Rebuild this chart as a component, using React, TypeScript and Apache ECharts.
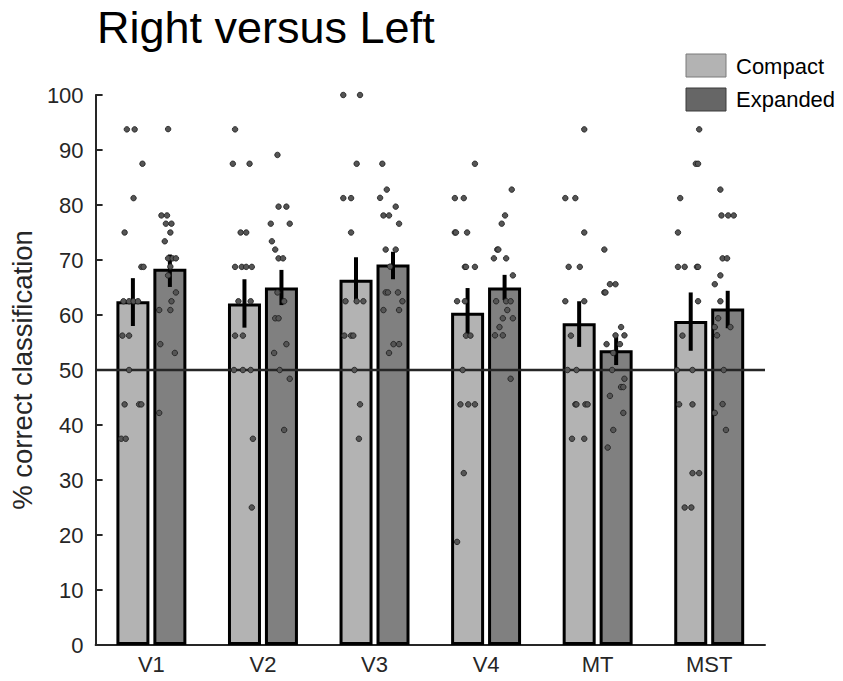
import React, { useEffect, useRef } from "react";
import * as echarts from "echarts";

const FONT = "'Liberation Sans', Arial, Helvetica, sans-serif";

const categories = ["V1", "V2", "V3", "V4", "MT", "MST"];
const compactMeans = [62.5, 62.1, 66.4, 60.4, 58.5, 58.9];
const expandedMeans = [68.4, 65.0, 69.2, 65.0, 53.6, 61.2];
const compactErrLow = [58.0, 57.7, 62.2, 56.4, 54.2, 53.5];
const compactErrHigh = [66.7, 66.5, 70.5, 64.9, 62.5, 64.1];
const expandedErrLow = [65.1, 61.8, 66.5, 62.7, 50.9, 57.6];
const expandedErrHigh = [71.0, 68.2, 71.5, 67.3, 56.1, 64.4];
const chanceLevel = 50;

// individual subjects: [x position in category units (0..6), % correct]
const compactPoints: [number, number][] = [
  // V1
  [0.28, 93.75], [0.35, 93.75], [0.42, 87.5], [0.34, 81.25], [0.26, 75], [0.41, 68.75], [0.43, 68.75],
  [0.25, 62.5], [0.30, 62.5], [0.34, 62.5], [0.38, 62.5], [0.24, 56.25], [0.30, 56.25], [0.30, 50],
  [0.26, 43.75], [0.39, 43.75], [0.41, 43.75], [0.23, 37.5], [0.27, 37.5],
  // V2
  [1.25, 93.75], [1.23, 87.5], [1.38, 87.5], [1.30, 75], [1.35, 75], [1.25, 68.75], [1.31, 68.75],
  [1.35, 68.75], [1.40, 68.75], [1.28, 62.5], [1.39, 62.5], [1.25, 56.25], [1.32, 56.25], [1.24, 50],
  [1.32, 50], [1.39, 50], [1.41, 37.5], [1.40, 25],
  // V3
  [2.22, 100], [2.37, 100], [2.34, 87.5], [2.22, 81.25], [2.29, 81.25], [2.29, 75], [2.24, 62.5],
  [2.34, 62.5], [2.40, 62.5], [2.23, 56.25], [2.29, 56.25], [2.31, 56.25], [2.32, 50], [2.37, 43.75],
  [2.36, 37.5],
  // V4
  [3.40, 87.5], [3.22, 81.25], [3.30, 81.25], [3.22, 75], [3.23, 75], [3.33, 75], [3.31, 68.75],
  [3.32, 68.75], [3.40, 68.75], [3.24, 62.5], [3.31, 62.5], [3.32, 56.25], [3.36, 56.25], [3.29, 50],
  [3.27, 43.75], [3.34, 43.75], [3.40, 43.75], [3.30, 31.25], [3.24, 18.75],
  // MT
  [4.38, 93.75], [4.21, 81.25], [4.30, 81.25], [4.38, 75], [4.24, 68.75], [4.34, 68.75], [4.21, 62.5],
  [4.38, 62.5], [4.26, 56.25], [4.23, 50], [4.31, 50], [4.30, 43.75], [4.31, 43.75], [4.39, 43.75],
  [4.41, 43.75], [4.27, 37.5], [4.38, 37.5],
  // MST
  [5.41, 93.75], [5.38, 87.5], [5.40, 87.5], [5.24, 81.25], [5.22, 75], [5.22, 68.75], [5.28, 68.75],
  [5.39, 68.75], [5.40, 68.75], [5.40, 62.5], [5.26, 56.25], [5.21, 50], [5.35, 50], [5.23, 43.75],
  [5.35, 43.75], [5.35, 31.25], [5.41, 31.25], [5.28, 25], [5.34, 25],
];

const expandedPoints: [number, number][] = [
  // V1
  [0.65, 93.8], [0.59, 78.1], [0.64, 78.1], [0.63, 76.6], [0.68, 76.6], [0.67, 75], [0.62, 73.4],
  [0.65, 70.3], [0.69, 70.3], [0.72, 70.3], [0.67, 68.8], [0.65, 67.2], [0.72, 64.1], [0.68, 62.5],
  [0.57, 60.9], [0.67, 60.9], [0.58, 54.7], [0.71, 53.1], [0.57, 42.2],
  // V2
  [1.63, 89.1], [1.64, 79.7], [1.71, 79.7], [1.57, 76.6], [1.74, 76.6], [1.58, 73.4], [1.61, 71.9],
  [1.64, 70.3], [1.68, 70.3], [1.63, 64.1], [1.69, 62.5], [1.61, 59.4], [1.64, 59.4], [1.71, 54.7],
  [1.60, 53.1], [1.65, 50], [1.74, 48.4], [1.69, 39.1],
  // V3
  [2.57, 87.5], [2.61, 82.8], [2.55, 81.3], [2.69, 79.7], [2.58, 78.1], [2.63, 78.1], [2.72, 76.6],
  [2.60, 71.9], [2.69, 71.9], [2.64, 68.8], [2.60, 64.1], [2.62, 64.1], [2.71, 64.1], [2.75, 62.5],
  [2.58, 60.9], [2.72, 60.9], [2.67, 54.7], [2.72, 54.7], [2.63, 53.1],
  // V4
  [3.73, 82.8], [3.67, 78.1], [3.64, 76.6], [3.60, 71.9], [3.61, 71.9], [3.57, 70.3], [3.68, 70.3],
  [3.74, 67.2], [3.59, 62.5], [3.68, 62.5], [3.72, 62.5], [3.69, 60.9], [3.65, 59.4], [3.74, 59.4],
  [3.62, 57.8], [3.58, 56.3], [3.65, 56.3], [3.72, 48.4],
  // MT
  [4.56, 71.9], [4.61, 65.6], [4.66, 65.6], [4.56, 64.1], [4.57, 64.1], [4.71, 57.8], [4.66, 56.3],
  [4.74, 56.3], [4.58, 54.7], [4.70, 54.7], [4.64, 53.1], [4.63, 50], [4.74, 48.4], [4.71, 46.9],
  [4.73, 46.9], [4.61, 45.3], [4.73, 42.2], [4.64, 39.1], [4.59, 35.9],
  // MST
  [5.60, 82.8], [5.61, 78.1], [5.67, 78.1], [5.72, 78.1], [5.62, 70.3], [5.66, 70.3], [5.60, 67.2],
  [5.55, 65.6], [5.60, 62.5], [5.58, 59.4], [5.55, 57.8], [5.69, 57.8], [5.57, 56.3], [5.63, 50],
  [5.62, 43.8], [5.55, 42.2], [5.65, 39.1],
];

const BAR_OFFSET = 18.5;

function errorRenderer(offset: number) {
  return (params: any, api: any) => {
    const lo = api.coord([api.value(0), api.value(1)]);
    const hi = api.coord([api.value(0), api.value(2)]);
    const x = lo[0] + offset;
    return {
      type: "line",
      shape: { x1: x, y1: lo[1], x2: x, y2: hi[1] },
      style: { stroke: "#000", lineWidth: 4 },
    };
  };
}

export default function App() {
  const ref = useRef<HTMLDivElement>(null);

  useEffect(() => {
    if (!ref.current) return;
    const chart = echarts.init(ref.current, undefined, { renderer: "svg" });

    const compactErr = categories.map((_, i) => [i, compactErrLow[i], compactErrHigh[i]]);
    const expandedErr = categories.map((_, i) => [i, expandedErrLow[i], expandedErrHigh[i]]);

    const dotStyle = { color: "#555555", borderColor: "#1a1a1a", borderWidth: 0.8, opacity: 1 };

    const option: any = {
      animation: false,
      backgroundColor: "#ffffff",
      textStyle: { fontFamily: FONT },
      title: {
        text: "Right versus Left",
        left: 92,
        top: 0,
        textStyle: { fontSize: 45, fontWeight: "normal", color: "#000", fontFamily: FONT },
      },
      grid: { left: 93, right: 78, top: 95, bottom: 36, containLabel: false },
      xAxis: [
        {
          type: "category",
          data: categories,
          axisLine: { show: true, lineStyle: { color: "#262626", width: 2 } },
          axisTick: { show: false },
          axisLabel: { color: "#262626", fontSize: 22, margin: 8, fontFamily: FONT },
          splitLine: { show: false },
        },
        { type: "value", min: 0, max: 6, show: false },
      ],
      yAxis: {
        type: "value",
        min: 0,
        max: 100,
        interval: 10,
        name: "% correct classification",
        nameLocation: "middle",
        nameGap: 58,
        nameTextStyle: { fontSize: 27.5, color: "#262626", fontFamily: FONT },
        axisLine: { show: true, lineStyle: { color: "#262626", width: 2 } },
        axisTick: { show: true, inside: true, length: 7, lineStyle: { color: "#262626", width: 2 } },
        axisLabel: { color: "#262626", fontSize: 22, margin: 12, fontFamily: FONT },
        splitLine: { show: false },
      },
      series: [
        {
          name: "Compact",
          type: "bar",
          data: compactMeans,
          barWidth: 33,
          barGap: "12%",
          itemStyle: { color: "#b3b3b3", borderColor: "#000", borderWidth: 3 },
          z: 2,
        },
        {
          name: "Expanded",
          type: "bar",
          data: expandedMeans,
          barWidth: 33,
          barGap: "12%",
          itemStyle: { color: "#808080", borderColor: "#000", borderWidth: 3 },
          z: 2,
        },
        {
          name: "chance",
          type: "line",
          xAxisIndex: 1,
          data: [
            [0, chanceLevel],
            [6, chanceLevel],
          ],
          symbol: "none",
          lineStyle: { color: "#262626", width: 2.5 },
          z: 3,
        },
        {
          name: "Compact SEM",
          type: "custom",
          xAxisIndex: 0,
          data: compactErr,
          encode: { x: 0, y: [1, 2] },
          renderItem: errorRenderer(-BAR_OFFSET),
          z: 4,
        },
        {
          name: "Expanded SEM",
          type: "custom",
          xAxisIndex: 0,
          data: expandedErr,
          encode: { x: 0, y: [1, 2] },
          renderItem: errorRenderer(BAR_OFFSET),
          z: 4,
        },
        {
          name: "Compact subjects",
          type: "scatter",
          xAxisIndex: 1,
          data: compactPoints,
          symbolSize: 5.5,
          itemStyle: dotStyle,
          z: 5,
        },
        {
          name: "Expanded subjects",
          type: "scatter",
          xAxisIndex: 1,
          data: expandedPoints,
          symbolSize: 5.5,
          itemStyle: dotStyle,
          z: 5,
        },
      ],
      graphic: [
        {
          type: "rect",
          shape: { x: 686, y: 54, width: 40, height: 23 },
          style: { fill: "#b3b3b3", stroke: "#7a7a7a", lineWidth: 1 },
        },
        {
          type: "text",
          x: 736,
          y: 66,
          style: { text: "Compact", fontSize: 22, fontFamily: FONT, fill: "#000", verticalAlign: "middle" },
        },
        {
          type: "rect",
          shape: { x: 686, y: 88, width: 40, height: 23 },
          style: { fill: "#666666", stroke: "#3a3a3a", lineWidth: 1 },
        },
        {
          type: "text",
          x: 736,
          y: 99,
          style: { text: "Expanded", fontSize: 22, fontFamily: FONT, fill: "#000", verticalAlign: "middle" },
        },
      ],
    };

    chart.setOption(option);
    return () => chart.dispose();
  }, []);

  return (
    <div
      ref={ref}
      style={{ position: "fixed", left: 0, top: 0, width: 843, height: 681, background: "#fff" }}
    />
  );
}
